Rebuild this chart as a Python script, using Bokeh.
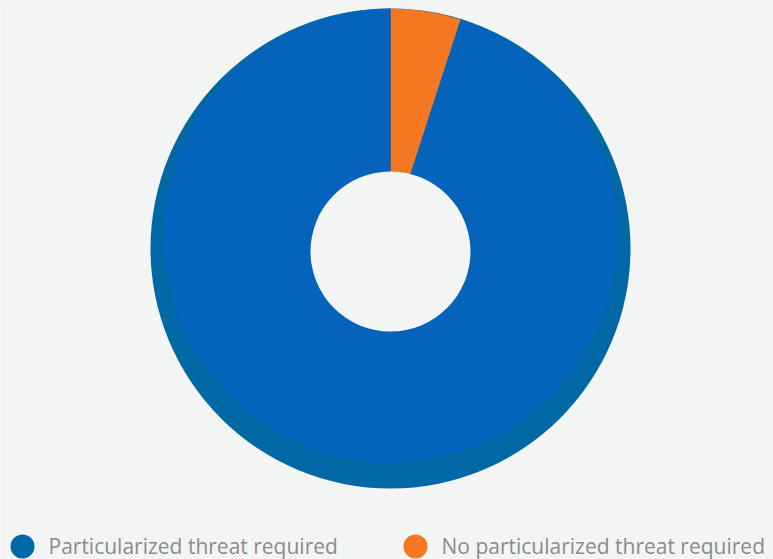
import math
from bokeh.plotting import figure
from bokeh.models import Range1d
from bokeh.core.properties import value
from bokeh.embed import file_html
from bokeh.resources import INLINE

categories = ["Particularized threat required", "No particularized threat required"]
shares = [95, 5]
colors = ["#0563BC", "#F47721"]
legend_colors = ["#0068A5", "#F47721"]

W, H = 773, 559
BG = "#F3F5F4"

p = figure(width=W, height=H, output_backend="svg", toolbar_location=None,
           x_range=Range1d(0, W), y_range=Range1d(0, H), min_border=0,
           background_fill_color=BG, border_fill_color=BG)
p.axis.visible = False
p.grid.visible = False
p.outline_line_color = None

cx = 390
face_cy = H - 235
shadow_cy = H - 248
hole_cy = H - 251

# shadow
p.circle(x=[cx], y=[shadow_cy], radius=240, fill_color="#0068A5", line_color=None)

total = sum(shares)
start = math.pi / 2
a_or = shares[1] / total * 2 * math.pi
p.wedge(x=[cx], y=[face_cy], radius=227, start_angle=start - a_or, end_angle=start,
        fill_color=colors[1], line_color=None)
p.wedge(x=[cx], y=[face_cy], radius=227, start_angle=start, end_angle=start - a_or + 2 * math.pi,
        fill_color=colors[0], line_color=None)

# hole
p.circle(x=[cx], y=[hole_cy], radius=80, fill_color=BG, line_color=None)

# legend
lx = [22, 415]
ly = H - 546
p.circle(x=lx, y=[ly, ly], radius=12, fill_color=legend_colors, line_color=None)
p.text(x=[x + 26 for x in lx], y=[ly + 1, ly + 1], text=categories, text_font=value("Open Sans"),
       text_font_size="21px", text_color="#8A8C8C", text_baseline="middle", text_align="left")

open("out.html", "w").write(file_html(p, INLINE))
